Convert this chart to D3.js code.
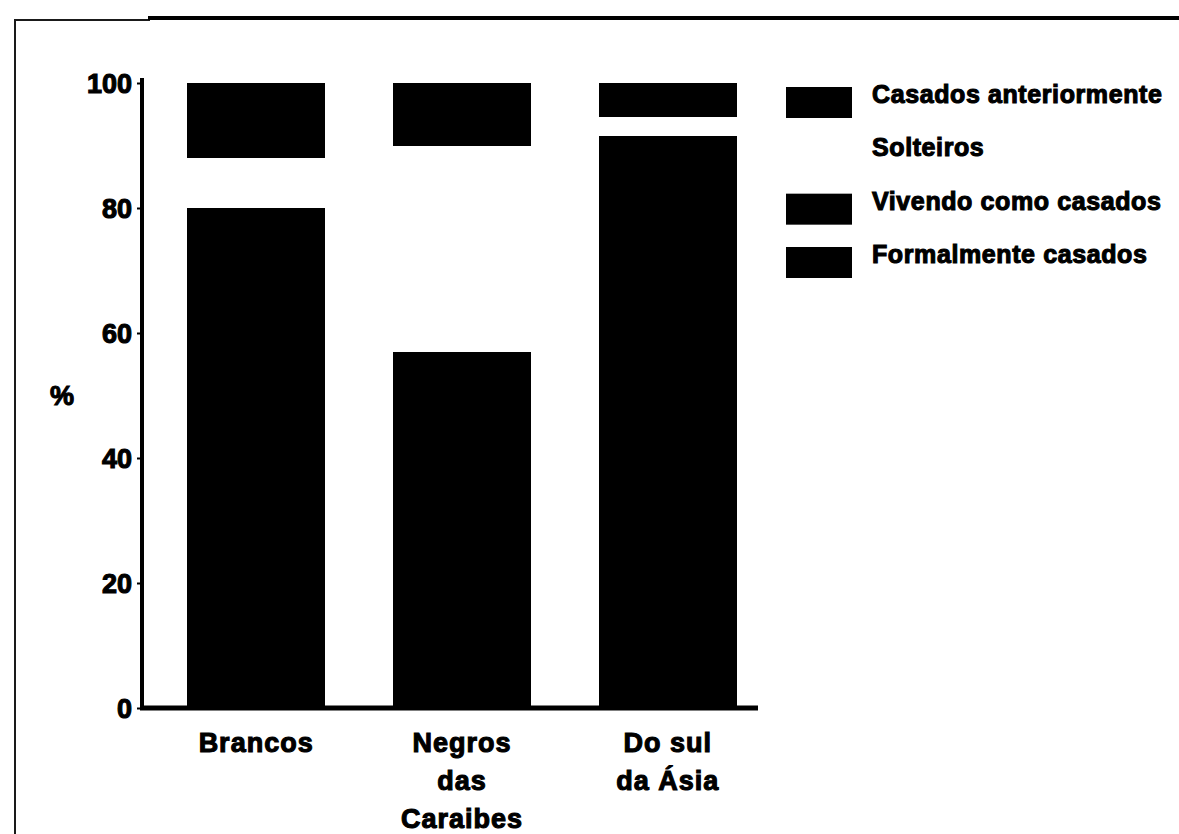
<!DOCTYPE html>
<html>
<head>
<meta charset="utf-8">
<script src="https://cdn.jsdelivr.net/npm/d3@7"></script>
<style>
  html, body { margin: 0; padding: 0; background: #fff; }
  svg { display: block; }
  text { font-family: "Liberation Sans", Arial, Helvetica, sans-serif; font-weight: bold; fill: #000; stroke: #000; stroke-width: 1.1px; }
</style>
</head>
<body>
<script>
// Estado civil por grupo étnico (%)
const groups = ["Brancos", "Negros das Caraibes", "Do sul da Ásia"];
const groupLines = [["Brancos"], ["Negros", "das", "Caraibes"], ["Do sul", "da Ásia"]];
// stacking order, bottom to top
const statuses = ["Formalmente casados", "Vivendo como casados", "Solteiros", "Casados anteriormente"];
const formalmenteCasados = [75, 44, 90];
const vivendoComoCasados = [5, 13, 1.5];
const solteiros = [8, 33, 3];
const casadosAnteriormente = [12, 10, 5.5];
const yTicks = [0, 20, 40, 60, 80, 100];
// legend order, top to bottom
const legendItems = ["Casados anteriormente", "Solteiros", "Vivendo como casados", "Formalmente casados"];
const statusColors = {
  "Formalmente casados": "#000",
  "Vivendo como casados": "#000",
  "Solteiros": "#fff",
  "Casados anteriormente": "#000"
};

const W = 1179, H = 834;
const svg = d3.select("body").append("svg").attr("width", W).attr("height", H);

// page frame
svg.append("line").attr("x1", 15).attr("x2", 15).attr("y1", 19).attr("y2", H)
  .attr("stroke", "#1a1a1a").attr("stroke-width", 2);
svg.append("line").attr("x1", 14).attr("x2", 150).attr("y1", 20).attr("y2", 20)
  .attr("stroke", "#1a1a1a").attr("stroke-width", 2);
svg.append("line").attr("x1", 148).attr("x2", W).attr("y1", 18).attr("y2", 18)
  .attr("stroke", "#000").attr("stroke-width", 4);

// plot area
const plotLeft = 142, plotRight = 758, plotTop = 83, plotBottom = 708;

const x = d3.scaleBand().domain(groups).range([187, 737]).paddingInner(0.328).paddingOuter(0);
const y = d3.scaleLinear().domain([0, 100]).range([plotBottom, plotTop]);

const rows = groups.map((g, i) => ({
  group: g,
  "Formalmente casados": formalmenteCasados[i],
  "Vivendo como casados": vivendoComoCasados[i],
  "Solteiros": solteiros[i],
  "Casados anteriormente": casadosAnteriormente[i]
}));
const stacked = d3.stack().keys(statuses)(rows);

const layers = svg.append("g").attr("shape-rendering", "crispEdges")
  .selectAll("g").data(stacked).join("g")
  .attr("fill", d => statusColors[d.key]);
layers.selectAll("rect").data(d => d).join("rect")
  .attr("x", d => x(d.data.group))
  .attr("width", x.bandwidth())
  .attr("y", d => y(d[1]))
  .attr("height", d => y(d[0]) - y(d[1]));

// y axis
const yAxis = svg.append("g").attr("transform", `translate(${plotLeft},0)`)
  .call(d3.axisLeft(y).tickValues(yTicks).tickSize(5).tickPadding(5).tickFormat(d3.format("d")));
yAxis.select(".domain").attr("stroke", "#000").attr("stroke-width", 4)
  .attr("d", `M0,${plotTop - 5}V${plotBottom + 2}`);
yAxis.selectAll(".tick line").attr("stroke", "#000").attr("stroke-width", 2);
yAxis.selectAll(".tick text").attr("font-size", 27).attr("dy", "0.36em")
  .style("font-family", "\"Liberation Sans\", Arial, sans-serif");

// baseline
svg.append("line")
  .attr("x1", plotLeft - 2).attr("x2", plotRight)
  .attr("y1", y(0)).attr("y2", y(0))
  .attr("stroke", "#000").attr("stroke-width", 5);

// y axis title
svg.append("text").attr("x", 62).attr("y", 395).attr("dy", "0.36em")
  .attr("text-anchor", "middle").attr("font-size", 27).text("%");

// category labels
const lineStep = 38;
svg.append("g").selectAll("text").data(groups).join("text")
  .attr("text-anchor", "middle")
  .attr("font-size", 27)
  .attr("letter-spacing", 1)
  .attr("x", d => x(d) + x.bandwidth() / 2)
  .attr("y", 752)
  .each(function (d, i) {
    d3.select(this).selectAll("tspan").data(groupLines[i]).join("tspan")
      .attr("x", x(d) + x.bandwidth() / 2)
      .attr("dy", (t, j) => j === 0 ? 0 : lineStep)
      .text(t => t);
  });

// legend
const legendY = d3.scalePoint().domain(legendItems).range([87, 247]);
const legend = svg.append("g").selectAll("g").data(legendItems).join("g")
  .attr("transform", d => `translate(786,${legendY(d)})`);
legend.filter(d => statusColors[d] !== "#fff").append("rect")
  .attr("width", 66).attr("height", 31).attr("fill", d => statusColors[d]);
legend.append("text").attr("x", 86).attr("y", 16).attr("font-size", 25)
  .attr("letter-spacing", 0.6)
  .text(d => d);
</script>
</body>
</html>
